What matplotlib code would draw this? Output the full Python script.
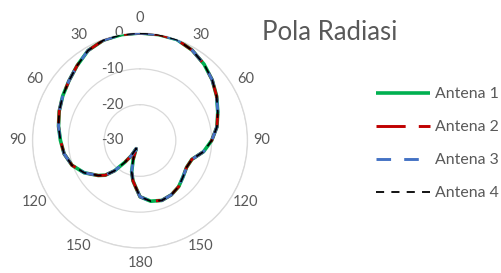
import numpy as np
import matplotlib
matplotlib.use("Agg")
from matplotlib import pyplot as plt
from matplotlib import transforms

plt.rcParams['font.family'] = ['Lato', 'DejaVu Sans']

# pattern angle (deg, clockwise from top) and gain (dB)
angles_deg = [0, 10, 20, 30, 40, 50, 60, 70, 80, 90, 100, 110, 120, 130, 140,
              150, 160, 170, 180, 185, 190, 195, 200, 205, 210, 215, 220, 225,
              230, 240, 250, 260, 270, 280, 290, 300, 310, 320, 330, 340, 350, 360]
gain_db = [0.0, 0.0, 0.0, -0.9, -2.2, -3.7, -5.3, -6.9, -8.2, -10.0, -12.0,
           -14.6, -15.0, -14.3, -13.2, -12.5, -12.2, -12.8, -14.3, -16.8, -18.6,
           -21.0, -24.5, -27.5, -25.0, -22.5, -19.0, -16.3, -14.8, -12.0, -9.8,
           -8.5, -7.8, -6.9, -6.0, -5.1, -4.1, -2.7, -1.0, -0.2, 0.0, 0.0]

# all four antennas give the same measured pattern
antena_names = ["Antena 1", "Antena 2", "Antena 3", "Antena 4"]
antena_gain = [gain_db, gain_db, gain_db, gain_db]

theta_ticks = [0, 30, 60, 90, 120, 150, 180, 210, 240, 270, 300, 330]
theta_labels = ["0", "30", "60", "90", "120", "150", "180", "150", "120", "90", "60", "30"]
r_ticks = [-30, -20, -10, 0]

colors = ["#00B050", "#C00000", "#4472C4", "#000000"]
widths = [2.6, 2.1, 2.1, 1.3]
dashes = [None, (10, 4.5), (5, 4.5), (4.5, 4)]
txt = "#595959"

fig = plt.figure(figsize=(5.01, 2.73), dpi=100)
ax = fig.add_axes([0.0649, 0.0916, 0.4291, 0.7875], projection="polar")
ax.set_theta_zero_location("N")
ax.set_theta_direction(-1)
ax.set_ylim(-30, 0)

theta = np.deg2rad(angles_deg)
lines = []
for i, g in enumerate(antena_gain):
    ln, = ax.plot(theta, g, color=colors[i], lw=widths[i], label=antena_names[i],
                  solid_capstyle="butt", dash_capstyle="butt", zorder=3 + i)
    if dashes[i] is not None:
        ln.set_dashes(dashes[i])
    lines.append(ln)

ax.set_xticks(np.deg2rad(theta_ticks))
ax.set_xticklabels(theta_labels)
ax.tick_params(axis="x", pad=0, labelsize=10.5, labelcolor=txt)
ax.xaxis.grid(False)

ax.set_yticks(r_ticks)
ax.set_yticklabels([])
ax.yaxis.grid(True, color="#D9D9D9", lw=0.9)
ax.spines["polar"].set_color("#D9D9D9")
ax.spines["polar"].set_linewidth(0.9)

shift = transforms.offset_copy(ax.transData, fig=fig, x=-17, y=0, units="dots")
for r in r_ticks:
    ax.text(0, r, str(r), transform=shift, ha="right", va="center",
            fontsize=10.5, color=txt, zorder=2)

fig.text(262 / 501, 1 - 40 / 273, "Pola Radiasi", ha="left", va="baseline",
         fontsize=18.5, color=txt)

fig.legend(handles=lines, loc="upper left", bbox_to_anchor=(376 / 501, 1 - 87 / 273),
           frameon=False, borderpad=0, borderaxespad=0, handlelength=3.4,
           handletextpad=0.3, labelspacing=1.2, fontsize=11.4, labelcolor=txt)

fig.savefig("out.png", dpi=100, facecolor="white")
